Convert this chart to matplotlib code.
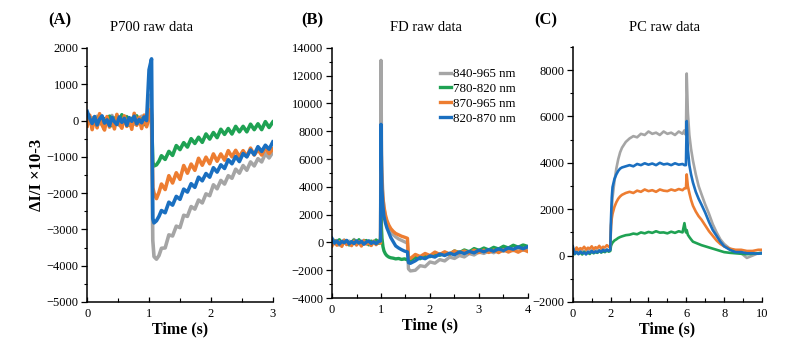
import matplotlib
matplotlib.use("Agg")
import matplotlib.pyplot as plt
from matplotlib.ticker import MultipleLocator

plt.rcParams['font.family'] = ['Liberation Serif', 'DejaVu Serif']

C_GRAY = '#a5a5a5'
C_GREEN = '#1fa253'
C_ORANGE = '#ed7d31'
C_BLUE = '#1a6fc0'

series_labels = ['840-965 nm', '780-820 nm', '870-965 nm', '820-870 nm']

# ---------------- Panel A : P700 raw data ----------------
t_a = [0.00, 0.04, 0.08, 0.12, 0.16, 0.20, 0.24, 0.28, 0.32, 0.36, 0.40, 0.44, 0.48,
       0.52, 0.56, 0.60, 0.64, 0.68, 0.72, 0.76, 0.80, 0.84, 0.88, 0.92, 0.96,
       1.00, 1.02, 1.04, 1.06, 1.08, 1.12, 1.16,
       1.20, 1.26, 1.32, 1.38, 1.44, 1.50, 1.56, 1.62, 1.68, 1.74, 1.80, 1.86, 1.92,
       1.98, 2.04, 2.10, 2.16, 2.22, 2.28, 2.34, 2.40, 2.46, 2.52, 2.58, 2.64, 2.70,
       2.76, 2.82, 2.88, 2.94, 3.00]
gray_a = [100, -60, 80, -40, 120, -90, 30, -110, 60, -20, 140, -70, 10, -130, 90, -50,
          110, -80, 40, -100, 70, -30, 120, -60, 20,
          150, 700, 200, -3300, -3750, -3820, -3720,
          -3520, -3510, -3150, -3180, -2910, -2950, -2610, -2640, -2370, -2440, -2190,
          -2270, -2020, -2070, -1770, -1880, -1650, -1750, -1520, -1590, -1340, -1450,
          -1240, -1370, -1140, -1250, -1050, -1140, -910, -1030, -870]
green_a = [180, 20, -120, 90, -60, 140, -100, 50, -20, 120, -140, 70, 10, -90, 160, -50,
           100, -130, 60, -10, 130, -80, 40, -110, 80,
           100, 250, 50, -1150, -1250, -1220, -1120,
           -970, -1070, -850, -960, -690, -800, -610, -730, -500, -630, -460, -600, -370,
           -510, -330, -470, -240, -380, -220, -370, -160, -310, -160, -310, -100, -250,
           -90, -250, -30, -190, -40]
orange_a = [-150, 150, -250, 80, -200, 190, -120, -260, 110, -180, 60, -230, 170, -90,
            -210, 130, -160, 40, -240, 200, -130, 90, -220, 150, -170,
            80, 300, 150, -1850, -2000, -2150, -1980,
            -1750, -1900, -1520, -1720, -1440, -1620, -1240, -1450, -1200, -1370, -1040,
            -1230, -1010, -1190, -920, -1120, -920, -1090, -830, -1000, -820, -1000,
            -830, -990, -760, -950, -800, -950, -750, -910, -780]
blue_a = [250, 60, -80, 110, -120, 40, 130, -70, 20, -140, 90, -30, -110, 100, -50, 60,
          -130, 80, -20, 120, -90, 30, -60, 100, 0,
          1400, 1550, 1700, -2700, -2820, -2760, -2640,
          -2480, -2540, -2250, -2330, -2090, -2170, -1890, -1970, -1740, -1840, -1560,
          -1660, -1460, -1560, -1300, -1420, -1220, -1320, -1080, -1190, -990, -1130,
          -910, -1000, -810, -940, -720, -850, -680, -790, -590]

# ---------------- Panel B : FD raw data ----------------
t_b = [0.00, 0.05, 0.10, 0.15, 0.20, 0.25, 0.30, 0.35, 0.40, 0.45, 0.50, 0.55, 0.60,
       0.65, 0.70, 0.75, 0.80, 0.85, 0.90, 0.95,
       0.99, 1.00, 1.01, 1.02, 1.04, 1.06, 1.09, 1.12, 1.16, 1.20, 1.25, 1.30, 1.36,
       1.42, 1.48, 1.54, 1.56, 1.60,
       1.70, 1.80, 1.90, 2.00, 2.10, 2.20, 2.30, 2.40, 2.50, 2.60, 2.70, 2.80, 2.90,
       3.00, 3.10, 3.20, 3.30, 3.40, 3.50, 3.60, 3.70, 3.80, 3.90, 4.00]
gray_b = [200, -100, 150, -200, 50, 180, -150, 100, -50, 220, -180, 60, -120, 160, -60,
          120, -200, 90, -30, 150,
          50, 13100, 7500, 5000, 3300, 2500, 1800, 1350, 1000, 750, 550, 400, 250, 150,
          50, -50, -1900, -2050,
          -2000, -1670, -1740, -1400, -1490, -1230, -1330, -1050, -1150, -940, -1040,
          -800, -900, -690, -790, -610, -740, -540, -640, -470, -590, -440, -560, -410]
green_b = [-100, 150, -50, 200, -150, 80, 120, -180, 30, 160, -90, 200, -130, 50, 140,
           -170, 100, -40, 180, -60,
           0, 2500, 1000, 300, -300, -600, -820, -950, -1050, -1100, -1130, -1180,
           -1150, -1220, -1180, -1250, -1300, -1280,
           -1070, -1170, -910, -1020, -800, -920, -730, -840, -610, -730, -540, -670,
           -440, -570, -400, -540, -350, -470, -270, -400, -200, -340, -180, -290]
orange_b = [-250, 120, -200, 50, -280, 150, -150, -50, -230, 100, -180, 60, -260, 130,
            -120, -30, -220, 90, -160, 40,
            -50, 8000, 5500, 4200, 3200, 2600, 2000, 1600, 1250, 1000, 800, 650, 550,
            450, 380, 300, -1050, -1150,
            -860, -1010, -790, -940, -690, -860, -670, -840, -610, -760, -610, -770,
            -550, -730, -550, -720, -550, -730, -520, -690, -540, -700, -510, -660]
blue_b = [300, -50, 100, -120, 80, -20, 150, -100, 60, -80, 120, -40, 90, -130, 30, 110,
          -70, 50, -90, 70,
          100, 8500, 5500, 3800, 2600, 1900, 1400, 1050, 700, 350, 50, -250, -400, -520,
          -620, -680, -1450, -1500,
          -1320, -1070, -1170, -960, -1050, -830, -940, -770, -890, -680, -800, -640,
          -750, -550, -670, -510, -630, -460, -580, -390, -490, -320, -450, -300]

# ---------------- Panel C : PC raw data ----------------
t_c = [0.0, 0.1, 0.2, 0.3, 0.4, 0.5, 0.6, 0.7, 0.8, 0.9, 1.0, 1.1, 1.2, 1.3, 1.4, 1.5,
       1.6, 1.7, 1.8, 1.9,
       1.98, 2.02, 2.06, 2.1, 2.2, 2.3, 2.4, 2.5, 2.6, 2.8,
       3.0, 3.2, 3.4, 3.6, 3.8, 4.0, 4.2, 4.4, 4.6, 4.8, 5.0, 5.2, 5.4, 5.6, 5.8,
       5.9, 5.98, 6.02, 6.08, 6.16, 6.25, 6.35, 6.5, 6.65, 6.8, 7.0, 7.2, 7.4, 7.6,
       7.8, 8.0, 8.3, 8.6, 8.9, 9.2, 9.5, 9.8, 10.0]
gray_c = [250, 150, 220, 120, 260, 180, 200, 140, 280, 170, 230, 150, 260, 200, 240,
          180, 300, 210, 260, 230,
          250, 1300, 2000, 2500, 3200, 3750, 4150, 4450, 4650, 4900,
          5050, 5150, 5100, 5250, 5200, 5350, 5250, 5300, 5200, 5350, 5250, 5300, 5200,
          5350, 5250,
          5400, 5200, 7850, 6200, 5200, 4600, 4100, 3500, 3000, 2650, 2200, 1800, 1350,
          1000, 700, 500, 300, 200, 100, -100, 0, 100, 150]
green_c = [100, 60, 150, 80, 130, 50, 160, 90, 120, 70, 180, 100, 150, 120, 200, 130,
           180, 150, 220, 170,
           200, 420, 500, 560, 650, 700, 760, 800, 830, 880,
           900, 950, 920, 1000, 960, 1020, 980, 1050, 990, 1000, 960, 1030, 980, 1050,
           1000,
           1400, 1000, 1100, 900, 800, 700, 600, 550, 500, 450, 400, 350, 300, 250, 200,
           150, 120, 100, 80, 60, 80, 100, 100]
orange_c = [300, 200, 350, 250, 320, 280, 380, 260, 340, 300, 400, 280, 360, 320, 420,
            300, 380, 350, 450, 380,
            380, 1300, 1600, 1800, 2100, 2300, 2450, 2550, 2620, 2700,
            2750, 2700, 2800, 2750, 2850, 2780, 2820, 2750, 2850, 2800, 2780, 2850, 2800,
            2870, 2820,
            2900, 2900, 3500, 3000, 2700, 2400, 2150, 1900, 1700, 1550, 1300, 1050, 850,
            650, 500, 400, 300, 250, 250, 200, 200, 250, 250]
blue_c = [400, 80, 150, 60, 170, 100, 130, 50, 160, 110, 200, 120, 180, 140, 220, 150,
          250, 180, 260, 200,
          250, 1600, 2500, 2950, 3300, 3500, 3650, 3750, 3800, 3850,
          3900, 3850, 3950, 3900, 3980, 3920, 3970, 3900, 4000, 3930, 3960, 3900, 3980,
          3920, 3950,
          3900, 3900, 5800, 4600, 3900, 3500, 3150, 2750, 2450, 2200, 1850, 1450, 1100,
          850, 600, 400, 250, 150, 150, 100, 100, 80, 100]

fig = plt.figure(figsize=(8, 3.47), dpi=100)
axA = fig.add_axes([0.109, 0.1297, 0.232, 0.732])
axB = fig.add_axes([0.415, 0.141, 0.245, 0.721])
axC = fig.add_axes([0.716, 0.1297, 0.2365, 0.7353])

colors = [C_GRAY, C_GREEN, C_ORANGE, C_BLUE]


def draw(ax, t, ys, lw):
    lines = []
    for y, c, lab in zip(ys, colors, series_labels):
        ln, = ax.plot(t, y, color=c, lw=lw, label=lab)
        lines.append(ln)
    return lines


draw(axA, t_a, [gray_a, green_a, orange_a, blue_a], 2.6)
linesB = draw(axB, t_b, [gray_b, green_b, orange_b, blue_b], 2.4)
draw(axC, t_c, [gray_c, green_c, orange_c, blue_c], 1.9)

axA.set_xlim(0, 3); axA.set_ylim(-5000, 2000)
axA.xaxis.set_major_locator(MultipleLocator(1)); axA.xaxis.set_minor_locator(MultipleLocator(0.5))
axA.yaxis.set_major_locator(MultipleLocator(1000)); axA.yaxis.set_minor_locator(MultipleLocator(500))

axB.set_xlim(0, 4); axB.set_ylim(-4000, 14000)
axB.xaxis.set_major_locator(MultipleLocator(1)); axB.xaxis.set_minor_locator(MultipleLocator(0.5))
axB.yaxis.set_major_locator(MultipleLocator(2000)); axB.yaxis.set_minor_locator(MultipleLocator(1000))

axC.set_xlim(0, 10); axC.set_ylim(-2000, 9000)
axC.set_xticks([0, 2, 4, 6, 8, 10]); axC.xaxis.set_minor_locator(MultipleLocator(1))
axC.set_yticks([-2000, 0, 2000, 4000, 6000, 8000]); axC.yaxis.set_minor_locator(MultipleLocator(1000))

for ax in (axA, axB, axC):
    for s in ('top', 'right'):
        ax.spines[s].set_visible(False)
    for s in ('left', 'bottom'):
        ax.spines[s].set_linewidth(1.1)
        ax.spines[s].set_color('black')
    ax.tick_params(axis='y', which='major', direction='out', length=4, width=0.9,
                   labelsize=9, pad=2)
    ax.tick_params(axis='y', which='minor', direction='out', length=2.5, width=0.8)
    ax.tick_params(axis='x', which='major', direction='in', length=3.5, width=0.9,
                   labelsize=9, pad=4)
    ax.tick_params(axis='x', which='minor', direction='in', length=3, width=0.8)
    ax.set_xlabel('Time (s)', fontsize=11.5, fontweight='bold', labelpad=1)

axA.set_ylabel('ΔI/I ×10-3', fontsize=12, fontweight='bold', labelpad=1)

fig.text(0.06, 0.942, '(A)', fontsize=12, fontweight='bold', ha='left', va='center')
fig.text(0.377, 0.942, '(B)', fontsize=12, fontweight='bold', ha='left', va='center')
fig.text(0.668, 0.942, '(C)', fontsize=12, fontweight='bold', ha='left', va='center')
fig.text(0.189, 0.921, 'P700 raw data', fontsize=10.5, ha='center', va='center')
fig.text(0.533, 0.921, 'FD raw data', fontsize=10.5, ha='center', va='center')
fig.text(0.831, 0.921, 'PC raw data', fontsize=10.5, ha='center', va='center')

axB.legend(handles=linesB, loc='upper right', bbox_to_anchor=(0.965, 0.94), frameon=False,
           fontsize=9.3, handlelength=0.9, handletextpad=0.15, labelspacing=0.22,
           borderaxespad=0)

fig.savefig('out.png', dpi=100, facecolor='white')
